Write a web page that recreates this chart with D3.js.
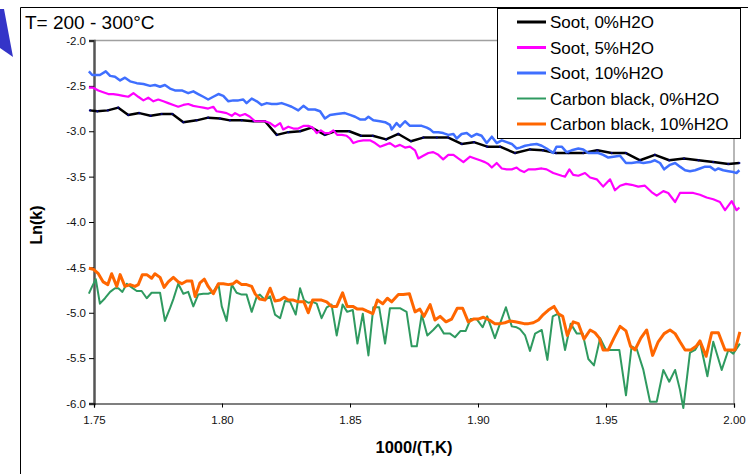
<!DOCTYPE html>
<html><head><meta charset="utf-8">
<script src="https://cdn.jsdelivr.net/npm/d3@7"></script>
<style>body{margin:0;background:#fff}svg{display:block}text{font-family:"Liberation Sans",Arial,sans-serif}</style>
</head><body><svg id="c" width="748" height="474"></svg>
<script>
const seriesNames = ["Soot, 0%H2O","Soot, 5%H2O","Soot, 10%H2O","Carbon black, 0%H2O","Carbon black, 10%H2O"];
const seriesColors = ["#000000","#ff00ff","#3f6fff","#2f9a60","#ff6600"];
const xTicks = [1.75,1.80,1.85,1.90,1.95,2.00];
const xTickLabels = ["1.75","1.80","1.85","1.90","1.95","2.00"];
const yTicks = [-6,-5.5,-5,-4.5,-4,-3.5,-3,-2.5,-2];
const yTickLabels = ["-6.0","-5.5","-5.0","-4.5","-4.0","-3.5","-3.0","-2.5","-2.0"];

const soot0X = [1.7484,1.7513,1.7554,1.7595,1.7634,1.7677,1.7721,1.7764,1.7806,1.7849,1.7901,1.7946,1.7992,1.8031,1.8077,1.8122,1.8168,1.8214,1.8259,1.8305,1.8350,1.8402,1.8441,1.8497,1.8543,1.8589,1.8641,1.8689,1.8738,1.8786,1.8839,1.8884,1.8936,1.8984,1.9036,1.9086,1.9145,1.9203,1.9253,1.9305,1.9353,1.9411,1.9466,1.9522,1.9578,1.9633,1.9691,1.9747,1.9805,1.9861,1.9919,1.9978,2.0021];
const soot0Y = [-2.77,-2.78,-2.77,-2.74,-2.82,-2.80,-2.83,-2.81,-2.81,-2.90,-2.88,-2.85,-2.86,-2.88,-2.88,-2.89,-2.89,-3.04,-3.01,-3.00,-2.96,-3.04,-3.00,-3.00,-3.05,-3.05,-3.09,-3.03,-3.11,-3.07,-3.07,-3.07,-3.14,-3.12,-3.17,-3.17,-3.24,-3.20,-3.21,-3.24,-3.24,-3.24,-3.21,-3.24,-3.24,-3.32,-3.26,-3.32,-3.30,-3.32,-3.34,-3.36,-3.35];

const soot5X = [1.7480,1.7497,1.7517,1.7536,1.7556,1.7575,1.7595,1.7614,1.7634,1.7654,1.7673,1.7693,1.7712,1.7732,1.7751,1.7771,1.7790,1.7810,1.7829,1.7849,1.7868,1.7888,1.7907,1.7927,1.7946,1.7966,1.7979,1.7999,1.8018,1.8038,1.8051,1.8070,1.8090,1.8109,1.8129,1.8148,1.8168,1.8188,1.8207,1.8227,1.8239,1.8259,1.8279,1.8298,1.8320,1.8337,1.8354,1.8370,1.8386,1.8402,1.8419,1.8435,1.8450,1.8468,1.8487,1.8500,1.8513,1.8532,1.8552,1.8578,1.8598,1.8617,1.8637,1.8656,1.8676,1.8695,1.8715,1.8734,1.8754,1.8767,1.8786,1.8806,1.8825,1.8845,1.8864,1.8884,1.8904,1.8923,1.8943,1.8969,1.8988,1.9008,1.9027,1.9040,1.9054,1.9073,1.9093,1.9112,1.9132,1.9151,1.9164,1.9180,1.9197,1.9223,1.9249,1.9268,1.9294,1.9327,1.9340,1.9357,1.9372,1.9392,1.9418,1.9438,1.9464,1.9489,1.9516,1.9535,1.9555,1.9578,1.9600,1.9626,1.9652,1.9678,1.9698,1.9724,1.9743,1.9770,1.9789,1.9815,1.9841,1.9867,1.9893,1.9919,1.9945,1.9965,1.9991,2.0010,2.0021];
const soot5Y = [-2.52,-2.52,-2.55,-2.57,-2.59,-2.59,-2.60,-2.61,-2.62,-2.58,-2.62,-2.66,-2.63,-2.67,-2.65,-2.67,-2.69,-2.71,-2.73,-2.71,-2.70,-2.72,-2.73,-2.74,-2.75,-2.73,-2.78,-2.79,-2.80,-2.83,-2.80,-2.83,-2.81,-2.84,-2.89,-2.89,-2.89,-2.91,-2.95,-2.91,-2.98,-2.95,-2.97,-2.97,-2.94,-2.94,-2.96,-3.02,-2.99,-3.02,-3.02,-2.99,-3.04,-3.04,-3.05,-3.08,-3.13,-3.11,-3.10,-3.10,-3.13,-3.17,-3.15,-3.13,-3.17,-3.15,-3.18,-3.17,-3.21,-3.30,-3.27,-3.24,-3.23,-3.26,-3.31,-3.26,-3.26,-3.30,-3.34,-3.28,-3.30,-3.32,-3.34,-3.36,-3.40,-3.35,-3.41,-3.42,-3.42,-3.40,-3.43,-3.45,-3.42,-3.42,-3.41,-3.42,-3.46,-3.49,-3.50,-3.42,-3.48,-3.49,-3.46,-3.51,-3.53,-3.61,-3.53,-3.65,-3.60,-3.58,-3.59,-3.61,-3.60,-3.67,-3.71,-3.66,-3.68,-3.78,-3.68,-3.68,-3.68,-3.70,-3.73,-3.75,-3.78,-3.87,-3.77,-3.87,-3.84];

const soot10X = [1.7480,1.7493,1.7523,1.7546,1.7563,1.7582,1.7602,1.7621,1.7641,1.7667,1.7693,1.7719,1.7738,1.7758,1.7777,1.7797,1.7816,1.7843,1.7868,1.7888,1.7907,1.7927,1.7946,1.7966,1.7986,1.8005,1.8025,1.8044,1.8064,1.8083,1.8096,1.8116,1.8136,1.8155,1.8175,1.8194,1.8214,1.8233,1.8253,1.8272,1.8298,1.8318,1.8337,1.8363,1.8383,1.8402,1.8422,1.8448,1.8480,1.8500,1.8520,1.8539,1.8559,1.8572,1.8591,1.8617,1.8637,1.8656,1.8663,1.8682,1.8695,1.8715,1.8734,1.8761,1.8780,1.8800,1.8813,1.8825,1.8845,1.8864,1.8884,1.8904,1.8917,1.8936,1.8956,1.8975,1.8995,1.9014,1.9034,1.9054,1.9073,1.9093,1.9112,1.9132,1.9151,1.9164,1.9184,1.9203,1.9229,1.9249,1.9268,1.9294,1.9307,1.9327,1.9346,1.9366,1.9392,1.9411,1.9431,1.9450,1.9470,1.9489,1.9509,1.9529,1.9555,1.9578,1.9600,1.9626,1.9646,1.9672,1.9691,1.9711,1.9727,1.9750,1.9770,1.9789,1.9809,1.9828,1.9848,1.9867,1.9887,1.9906,1.9926,1.9939,1.9958,1.9978,1.9997,2.0010,2.0021];
const soot10Y = [-2.34,-2.38,-2.38,-2.34,-2.39,-2.40,-2.44,-2.41,-2.45,-2.47,-2.48,-2.50,-2.49,-2.51,-2.49,-2.53,-2.55,-2.55,-2.58,-2.56,-2.59,-2.62,-2.65,-2.62,-2.59,-2.61,-2.67,-2.66,-2.66,-2.65,-2.69,-2.64,-2.67,-2.71,-2.69,-2.70,-2.70,-2.69,-2.71,-2.73,-2.77,-2.72,-2.76,-2.76,-2.78,-2.86,-2.82,-2.81,-2.80,-2.82,-2.84,-2.87,-2.87,-2.84,-2.88,-2.89,-2.90,-2.93,-2.98,-2.91,-2.95,-2.89,-2.94,-2.94,-2.94,-2.96,-2.98,-3.01,-3.01,-3.02,-3.04,-3.03,-3.08,-3.03,-3.02,-3.06,-3.03,-3.05,-3.13,-3.06,-3.13,-3.10,-3.12,-3.14,-3.19,-3.18,-3.16,-3.15,-3.14,-3.16,-3.19,-3.24,-3.17,-3.17,-3.23,-3.21,-3.19,-3.20,-3.24,-3.24,-3.24,-3.26,-3.29,-3.28,-3.27,-3.35,-3.35,-3.34,-3.35,-3.34,-3.32,-3.35,-3.42,-3.37,-3.35,-3.39,-3.43,-3.44,-3.43,-3.41,-3.39,-3.39,-3.43,-3.41,-3.43,-3.44,-3.45,-3.46,-3.43];

const cb0X = [1.7480,1.7491,1.7507,1.7523,1.7543,1.7563,1.7582,1.7595,1.7611,1.7628,1.7647,1.7667,1.7686,1.7706,1.7725,1.7745,1.7758,1.7777,1.7797,1.7810,1.7829,1.7849,1.7868,1.7888,1.7907,1.7927,1.7946,1.7966,1.7986,1.7999,1.8018,1.8038,1.8057,1.8077,1.8096,1.8116,1.8136,1.8148,1.8168,1.8188,1.8207,1.8227,1.8246,1.8266,1.8288,1.8305,1.8320,1.8337,1.8354,1.8370,1.8389,1.8409,1.8428,1.8448,1.8471,1.8489,1.8511,1.8529,1.8550,1.8572,1.8591,1.8614,1.8637,1.8656,1.8676,1.8695,1.8721,1.8741,1.8761,1.8780,1.8802,1.8825,1.8845,1.8867,1.8891,1.8910,1.8932,1.8952,1.8971,1.8995,1.9018,1.9036,1.9066,1.9086,1.9109,1.9132,1.9151,1.9164,1.9184,1.9203,1.9223,1.9249,1.9271,1.9292,1.9314,1.9340,1.9362,1.9386,1.9409,1.9431,1.9453,1.9477,1.9500,1.9522,1.9552,1.9578,1.9600,1.9620,1.9646,1.9672,1.9698,1.9724,1.9747,1.9770,1.9789,1.9802,1.9828,1.9848,1.9867,1.9896,1.9919,1.9952,1.9978,1.9997,2.0023];
const cb0Y = [-4.79,-4.72,-4.63,-4.90,-4.84,-4.77,-4.73,-4.73,-4.77,-4.68,-4.72,-4.76,-4.76,-4.84,-4.78,-4.78,-4.78,-5.09,-4.95,-4.85,-4.68,-4.79,-4.77,-4.93,-4.80,-4.79,-4.79,-4.77,-4.68,-4.93,-5.09,-4.69,-4.78,-4.80,-4.80,-4.99,-4.82,-4.80,-4.86,-4.82,-5.02,-5.06,-4.87,-4.88,-5.02,-4.73,-4.86,-4.89,-4.88,-4.90,-5.06,-4.94,-4.91,-5.25,-4.91,-4.99,-4.97,-5.34,-5.01,-5.47,-4.94,-4.94,-5.34,-4.95,-4.95,-4.95,-4.99,-5.37,-5.37,-5.02,-5.25,-5.19,-5.13,-5.23,-5.23,-5.27,-5.20,-5.20,-5.07,-5.07,-5.16,-5.04,-5.28,-5.12,-4.94,-5.15,-5.16,-5.18,-5.25,-5.42,-5.23,-5.19,-5.52,-5.04,-5.01,-5.41,-5.12,-5.23,-5.23,-5.51,-5.58,-5.28,-5.41,-5.41,-5.41,-5.91,-5.37,-5.40,-5.63,-5.98,-5.98,-5.63,-5.76,-5.63,-5.85,-6.05,-5.44,-5.41,-5.32,-5.70,-5.32,-5.63,-5.41,-5.45,-5.34];

const cb10X = [1.7480,1.7497,1.7517,1.7536,1.7554,1.7569,1.7589,1.7602,1.7621,1.7641,1.7660,1.7673,1.7689,1.7706,1.7725,1.7738,1.7758,1.7774,1.7790,1.7810,1.7829,1.7843,1.7862,1.7882,1.7895,1.7914,1.7931,1.7946,1.7966,1.7986,1.8005,1.8025,1.8044,1.8057,1.8077,1.8096,1.8116,1.8129,1.8148,1.8168,1.8188,1.8207,1.8227,1.8243,1.8259,1.8279,1.8298,1.8320,1.8337,1.8354,1.8372,1.8389,1.8409,1.8428,1.8448,1.8471,1.8489,1.8511,1.8529,1.8550,1.8565,1.8589,1.8607,1.8628,1.8646,1.8663,1.8689,1.8708,1.8732,1.8754,1.8773,1.8789,1.8813,1.8832,1.8852,1.8875,1.8897,1.8919,1.8940,1.8962,1.8982,1.9001,1.9021,1.9044,1.9066,1.9086,1.9105,1.9125,1.9145,1.9164,1.9180,1.9197,1.9216,1.9236,1.9255,1.9275,1.9297,1.9314,1.9331,1.9349,1.9372,1.9392,1.9414,1.9438,1.9457,1.9474,1.9489,1.9509,1.9531,1.9555,1.9578,1.9596,1.9613,1.9636,1.9659,1.9682,1.9704,1.9727,1.9750,1.9770,1.9789,1.9809,1.9831,1.9852,1.9867,1.9891,1.9913,1.9939,1.9965,1.9984,2.0004,2.0023];
const cb10Y = [-4.51,-4.52,-4.57,-4.66,-4.69,-4.57,-4.71,-4.58,-4.71,-4.69,-4.71,-4.69,-4.58,-4.58,-4.62,-4.57,-4.61,-4.72,-4.66,-4.61,-4.66,-4.68,-4.65,-4.65,-4.82,-4.67,-4.63,-4.71,-4.79,-4.68,-4.68,-4.69,-4.68,-4.65,-4.69,-4.69,-4.71,-4.79,-4.85,-4.86,-4.73,-4.87,-4.86,-4.83,-4.86,-4.86,-4.88,-4.88,-5.00,-4.86,-4.86,-4.86,-4.88,-4.93,-4.93,-4.78,-4.93,-4.93,-4.96,-4.96,-4.98,-5.01,-4.86,-4.90,-4.84,-4.88,-4.80,-4.80,-4.79,-4.99,-4.96,-5.04,-4.91,-5.08,-5.04,-5.10,-5.07,-4.95,-4.95,-5.10,-5.07,-5.07,-5.05,-5.08,-5.12,-5.12,-5.11,-5.09,-5.10,-5.11,-5.12,-5.12,-5.11,-5.08,-5.02,-4.97,-4.93,-5.01,-5.04,-5.25,-5.10,-5.12,-5.29,-5.19,-5.22,-5.28,-5.41,-5.41,-5.28,-5.15,-5.20,-5.37,-5.41,-5.28,-5.19,-5.47,-5.32,-5.23,-5.19,-5.23,-5.32,-5.41,-5.41,-5.37,-5.31,-5.48,-5.22,-5.22,-5.41,-5.41,-5.41,-5.21];

const seriesX = [soot0X, soot5X, soot10X, cb0X, cb10X];
const seriesY = [soot0Y, soot5Y, soot10Y, cb0Y, cb10Y];
const seriesWidth = [2.5, 2.2, 2.5, 2, 3];

const svg = d3.select("#c");
const x = d3.scaleLinear().domain([1.75, 2.0]).range([94, 734]);
const y = d3.scaleLinear().domain([-6, -2]).range([403.5, 40.5]);

// blue decorative triangle at top-left
svg.append("polygon").attr("points","0,9 4,9 13,57 0,48").attr("fill","#3434c8");

// outer chart border
svg.append("path").attr("d","M20.5,474 V7.5 H748").attr("fill","none").attr("stroke","#000").attr("stroke-width",1);

// plot area frame (top/right)
svg.append("path").attr("d",`M${x(1.75)},${y(-2)} H${x(2.0)} V${y(-6)}`).attr("fill","none").attr("stroke","#a0a0a0").attr("stroke-width",1.5);

// axes
const yAxis = d3.axisLeft(y).tickValues(yTicks).tickSize(5).tickPadding(3)
  .tickFormat((d,i)=>yTickLabels[i]);
const gy = svg.append("g").attr("transform",`translate(${x(1.75)},0)`).call(yAxis);
gy.select(".domain").attr("stroke","#555").attr("stroke-width",2.5);
gy.selectAll(".tick line").attr("stroke","#000");
gy.selectAll("text").attr("font-size",11.5).attr("fill","#111").style("font-family","Liberation Sans, Arial");

const xAxis = d3.axisBottom(x).tickValues(xTicks).tickSize(4).tickPadding(8)
  .tickFormat((d,i)=>xTickLabels[i]);
const gx = svg.append("g").attr("transform",`translate(0,${y(-6)})`).call(xAxis);
gx.select(".domain").attr("stroke","#000").attr("stroke-width",1.2);
gx.selectAll("text").attr("font-size",11.5).attr("fill","#111").style("font-family","Liberation Sans, Arial");

// lines
const line = d3.line().x(d=>x(d[0])).y(d=>y(d[1]));
seriesX.forEach((xs,k)=>{
  const pts = xs.map((v,i)=>[v, seriesY[k][i]]).filter(p=>p[1]!==undefined);
  svg.append("path").datum(pts).attr("d",line).attr("fill","none")
    .attr("stroke",seriesColors[k]).attr("stroke-width",seriesWidth[k])
    .attr("stroke-linejoin","round");
  if(k===0){
    svg.append("g").selectAll("circle").data(pts).join("circle")
      .attr("cx",d=>x(d[0])).attr("cy",d=>y(d[1])).attr("r",1.1).attr("fill","#000080");
  }
});

// titles
svg.append("text").attr("x",25).attr("y",29).attr("font-size",19).text("T= 200 - 300°C");
svg.append("text").attr("x",414).attr("y",453).attr("text-anchor","middle")
  .attr("font-size",16.5).attr("font-weight","bold").text("1000/(T,K)");
svg.append("text").attr("transform","translate(42,225) rotate(-90)").attr("text-anchor","middle")
  .attr("font-size",16).attr("font-weight","bold").text("Ln(k)");

// legend
const lg = svg.append("g");
lg.append("rect").attr("x",497.5).attr("y",8.5).attr("width",243).attr("height",130)
  .attr("fill","#fff").attr("stroke","#000").attr("stroke-width",1);
seriesNames.forEach((n,i)=>{
  const cy = 22 + i*25.5;
  lg.append("line").attr("x1",517).attr("x2",546).attr("y1",cy).attr("y2",cy)
    .attr("stroke",seriesColors[i]).attr("stroke-width", i===3?2:3);
  lg.append("text").attr("x",550).attr("y",cy+6).attr("font-size",17).text(n);
});
</script></body></html>
